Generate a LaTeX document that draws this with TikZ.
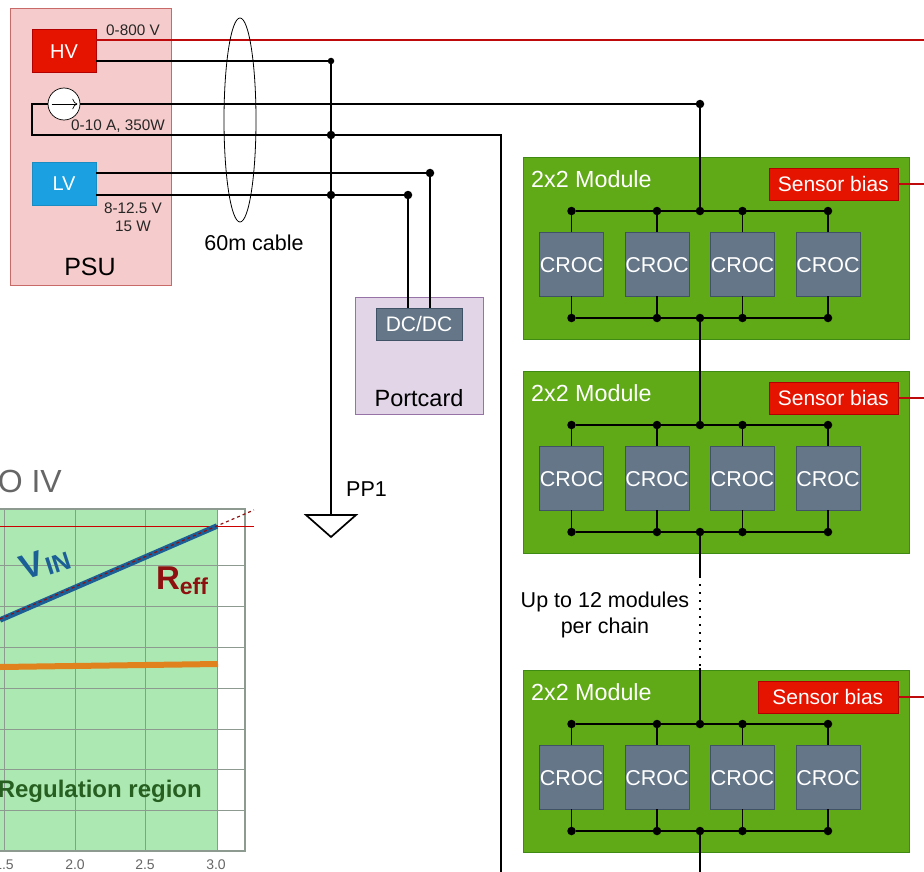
\documentclass[tikz,border=0pt]{standalone}
\usepackage{fontspec}
\setmainfont{Liberation Sans}
\usetikzlibrary{shapes.geometric, arrows.meta, positioning}
\definecolor{psupink}{HTML}{F6CBCB}
\definecolor{psuedge}{HTML}{C76A68}
\definecolor{hvred}{HTML}{E51400}
\definecolor{hvedge}{HTML}{B20000}
\definecolor{hvline}{HTML}{BE0A0A}
\definecolor{lvblue}{HTML}{1BA1E2}
\definecolor{lvedge}{HTML}{1A8CC4}
\definecolor{modgreen}{HTML}{60A917}
\definecolor{modedge}{HTML}{3F8A12}
\definecolor{chipgray}{HTML}{647687}
\definecolor{chipedge}{HTML}{3F5266}
\definecolor{portlilac}{HTML}{E1D5E7}
\definecolor{portedge}{HTML}{9673A6}
\definecolor{bandgreen}{HTML}{ABE8B2}
\definecolor{gridgray}{HTML}{8C9A90}
\definecolor{vinblue}{HTML}{1C5F96}
\definecolor{reffred}{HTML}{8F1010}
\definecolor{regiongreen}{HTML}{265F20}
\definecolor{fitorange}{HTML}{E0821E}

\begin{document}
\begin{tikzpicture}[
  x=1pt, y=-1pt,
  box/.style={draw, minimum width=64pt, minimum height=43pt, text=white, inner sep=0pt,
              font=\fontsize{20}{24}\selectfont},
  module/.style={draw=modedge, fill=modgreen, minimum width=386pt, minimum height=182pt},
  chip/.style={draw=chipedge, fill=chipgray, text=white, minimum width=64pt, minimum height=64pt,
               inner sep=0pt, text height=17.4pt, font=\fontsize{21.5}{25}\selectfont},
  bias/.style={draw=hvedge, fill=hvred, text=white, minimum height=32pt, inner sep=0pt, anchor=east,
               text height=16pt, font=\fontsize{21}{25}\selectfont},
  dot/.style={circle, fill=black, inner sep=0pt, minimum size=8.5pt},
  smalldot/.style={circle, fill=black, inner sep=0pt, minimum size=6.5pt},
  wire/.style={draw=black, line width=1.7pt},
  hvwire/.style={draw=hvline, line width=1.5pt},
  lab/.style={inner sep=0pt, font=\fontsize{21.5}{25}\selectfont},
  tiny/.style={inner sep=0pt, font=\fontsize{15.3}{18}\selectfont, text=black!85},
  tick/.style={inner sep=0pt, font=\fontsize{14}{17}\selectfont, text=black!60},
  gridline/.style={draw=gridgray, line width=1pt}
]
  \useasboundingbox (0,0) rectangle (924,872);
  \clip (0,0) rectangle (924,872);

  \node[draw=psuedge, fill=psupink, minimum width=161pt, minimum height=277pt] (psu) at (90.5,146.5) {};
  \node[box, fill=hvred, draw=hvedge, text height=16pt] (hv) at (64,50.5) {HV};
  \node[box, fill=lvblue, draw=lvedge] (lv) at (64,183.5) {LV};
  \node[draw=portedge, fill=portlilac, minimum width=128pt, minimum height=117pt] (portcard) at (419,355.5) {};
  \node[draw=chipedge, fill=chipgray, text=white, minimum width=86pt, minimum height=32pt, inner sep=0pt,
        font=\fontsize{21}{25}\selectfont] (dcdc) at (419,324) {DC/DC};

  \coordinate (hvtop) at (96,40);
  \coordinate (hvtopout) at (924,40);
  \coordinate (hvret) at (96,61);
  \coordinate (srcin) at (48,104);
  \coordinate (srcleft) at (32,104);
  \coordinate (srcdown) at (32,135);
  \coordinate (retturn) at (501,135);
  \coordinate (retout) at (501,872);
  \coordinate (lvtop) at (96,173);
  \coordinate (lvbot) at (96,195);
  \coordinate (gnd) at (331,515);
  \coordinate (dcl) at (408,308);
  \coordinate (dcr) at (430,308);

  \node[smalldot] (jhv) at (331,61) {};
  \node[dot] (jret) at (331,135) {};
  \node[dot] (jlv) at (331,195) {};
  \node[dot] (jlvt) at (430,173) {};
  \node[dot] (jlvb) at (408,195) {};
  \node[dot] (jin) at (700,104) {};

  \draw[hvwire] (hvtop) -- (hvtopout);
  \draw[wire] (hvret) -- (jhv);
  \draw[wire] (jhv) -- (jret);
  \draw[wire] (jret) -- (jlv);
  \draw[wire] (jlv) -- (gnd);
  \draw[wire] (srcin) -- (jin);
  \draw[wire] (srcin) -- (srcleft) -- (srcdown) -- (jret);
  \draw[wire] (jret) -- (retturn) -- (retout);
  \draw[wire] (lvtop) -- (jlvt);
  \draw[wire] (lvbot) -- (jlv);
  \draw[wire] (jlv) -- (jlvb);
  \draw[wire] (jlvt) -- (dcr);
  \draw[wire] (jlvb) -- (dcl);
  \draw[line width=1.7pt, line join=miter] (306,515) -- (356,515) -- (331,537) -- cycle;

  \node[circle, draw=black, fill=white, line width=0.7pt, minimum size=32pt, inner sep=0pt] (src) at (64,104) {};
  \draw[line width=0.7pt, -{To[length=5pt]}, shorten <=4pt, shorten >=3pt] (src.west) -- (src.east);
  \node[draw=black, line width=0.8pt, ellipse, minimum width=32pt, minimum height=204pt, inner sep=0pt] (cable) at (240,120) {};

  \node[tiny] (hvlab) at (133,30) {0-800 V};
  \node[tiny] (srclab) at (118,126) {0-10 A, 350W};
  \node[tiny, align=center] (lvlab) at (133,217) {8-12.5 V\\15 W};
  \node[lab, font=\fontsize{25}{28}\selectfont] (psulab) at (90,267) {PSU};
  \node[lab] (cablelab) at (254,243) {60m cable};
  \node[lab, font=\fontsize{23.5}{26}\selectfont] (portlab) at (419,398) {Portcard};
  \node[lab, anchor=west] (pplab) at (346,489) {PP1};
  \node[lab, align=center, font=\fontsize{21.5}{26}\selectfont] (chainlab) at (605,615) {Up to 12 modules\\per chain};

  \foreach \m/\y/\bw in {a/0/129, b/214/129, c/513/140} {
    \node[module] (\m) at (716,248+\y) {};
    \node[lab, text=white, anchor=west, font=\fontsize{23.3}{27}\selectfont] (\m-lab) at (531,179+\y) {2x2 Module};
    \node[bias, minimum width=\bw pt] (\m-bias) at (898,184+\y) {Sensor bias};
    \coordinate (\m-out) at (924,184+\y);
    \draw[hvwire] (\m-bias) -- (\m-out);
    \node[dot] (\m-tj) at (700,211+\y) {};
    \node[dot] (\m-bj) at (700,318+\y) {};
    \foreach \i/\x in {1/571.5, 2/657, 3/742.5, 4/828} {
      \node[chip] (\m-c\i) at (\x,264+\y) {CROC};
      \node[dot] (\m-t\i) at (\x,211+\y) {};
      \node[dot] (\m-b\i) at (\x,318+\y) {};
      \draw[wire] (\m-t\i) -- (\m-c\i);
      \draw[wire] (\m-c\i) -- (\m-b\i);
    }
    \draw[wire] (\m-t1) -- (\m-t4);
    \draw[wire] (\m-b1) -- (\m-b4);
  }

  \coordinate (gapa) at (700,576);
  \coordinate (gapb) at (700,668);
  \coordinate (chainout) at (700,872);
  \draw[wire] (jin) -- (a-tj);
  \draw[wire] (a-bj) -- (b-tj);
  \draw[wire] (b-bj) -- (gapa);
  \draw[wire, dash pattern=on 2pt off 6pt] (gapa) -- (gapb);
  \draw[wire] (gapb) -- (c-tj);
  \draw[wire] (c-bj) -- (chainout);

  \fill[bandgreen] (0,509) rectangle (217,851);
  \foreach \y in {565, 606, 647, 688, 729, 769, 810} {
    \draw[gridline] (0,\y) -- (245,\y);
  }
  \foreach \x in {4, 75, 145} {
    \draw[gridline] (\x,509) -- (\x,851);
  }
  \draw[gridline] (217,509) -- (217,851);
  \draw[draw=gridgray, line width=1.2pt] (0,509) -- (245,509) -- (245,851) -- (0,851);
  \draw[draw=red!80!black, line width=0.9pt] (0,526) -- (254,526);
  \draw[draw=fitorange, line width=6pt] (0,667) -- (218,664);
  \draw[draw=vinblue, line width=5.5pt] (0,620) -- (217,526);
  \draw[draw=reffred, line width=1.2pt, dashed] (0,619) -- (254,510);

  \node[inner sep=0pt, text=black!60, anchor=east, font=\fontsize{32}{38}\selectfont] (titlelab) at (62,481) {O IV};
  \node[inner sep=0pt, text=vinblue, rotate=18, font=\bfseries\fontsize{35}{40}\selectfont] (vinlab) at (45,563) {V\kern1pt\raisebox{-3pt}{\fontsize{25}{28}\selectfont IN}};
  \node[inner sep=0pt, text=reffred, font=\bfseries\fontsize{33}{38}\selectfont] (refflab) at (182,581) {R\raisebox{-5pt}{\fontsize{23}{26}\selectfont eff}};
  \node[inner sep=0pt, text=regiongreen, anchor=east, font=\bfseries\fontsize{24}{28}\selectfont] (reglab) at (202,791) {Regulation region};
  \foreach \i/\x/\t in {a/4/1.5, b/75/2.0, c/145/2.5, d/216/3.0} {
    \node[tick] (tick\i) at (\x,865) {\t};
  }
\end{tikzpicture}
\end{document}
